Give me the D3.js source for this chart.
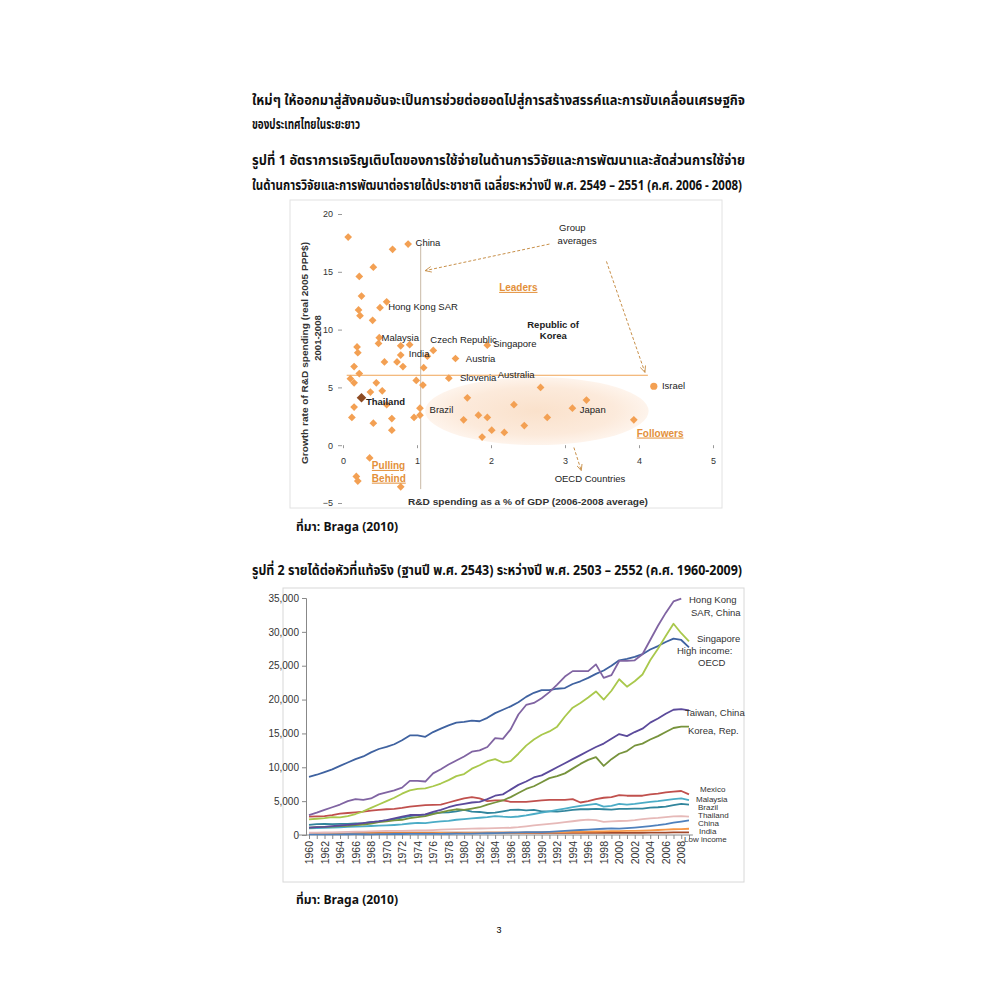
<!DOCTYPE html>
<html>
<head>
<meta charset="utf-8">
<title>R&D spending and real income per capita</title>
<style>
  body { margin: 0; background: #fff; }
  svg { display: block; }
  .thai { font-family: "Noto Sans Thai", "Noto Sans Thai UI", "Tahoma", "Noto Sans", "DejaVu Sans", sans-serif; font-weight: bold; fill: #111; }
  .chart text { font-family: "Liberation Sans", Arial, sans-serif; }
</style>
</head>
<body>
<script src="https://cdn.jsdelivr.net/npm/d3@7"></script>
<script>
// ---- figure 1: R&D share vs growth ----
const rdShare = [0.07,0.88,0.67,0.41,0.22,0.25,0.59,0.50,0.21,0.23,0.40,0.49,0.48,0.78,0.90,0.19,0.20,1.22,0.78,1.14,
  0.56,0.73,0.81,1.52,1.09,0.15,0.22,0.10,0.15,0.45,0.99,1.08,1.43,0.53,0.37,0.59,0.15,1.04,1.68,2.31,
  1.04,0.96,0.12,0.66,0.41,1.63,1.83,1.95,0.66,2.01,2.18,1.88,0.36,0.18,0.20,0.78,2.67,3.29,3.10,2.76,
  2.45,3.93,1.95];
const rdGrowth = [18.0,17.4,16.95,15.4,14.6,12.9,12.4,11.9,11.7,11.2,10.8,9.3,8.8,8.6,8.7,8.5,8.0,8.2,7.8,7.7,
  7.2,7.2,6.8,7.5,6.7,6.8,6.2,5.75,5.4,5.4,5.6,5.2,5.8,4.7,4.6,3.5,3.3,3.2,4.1,3.5,
  2.6,2.4,2.4,2.3,1.9,2.2,2.6,2.4,1.3,1.3,1.1,0.7,-1.1,-2.7,-3.1,-3.6,5.0,3.9,3.2,2.4,
  1.7,2.2,8.65];
const thailandPoint = [0.25, 4.1];
const israelPoint = [4.2, 5.1];
const avgShare = 1.05;
const avgGrowth = 6.05;
const xTicks1 = [0, 1, 2, 3, 4, 5];
const yTicks1 = [-5, 0, 5, 10, 15, 20];

const countryNames = ["China","Hong Kong SAR","Malaysia","Czech Republic","India","Austria","Singapore","Republic of","Korea",
  "Slovenia","Australia","Thailand","Brazil","Japan","Israel","OECD Countries","Group","averages"];
const countryAtX = [0.98,0.61,0.52,1.18,0.89,1.66,2.03,2.49,2.66,1.58,2.09,0.31,1.17,3.2,4.31,2.86,2.92,2.9];
const countryAtY = [17.5,11.95,9.3,9.1,7.9,7.5,8.75,10.45,9.5,5.8,6.1,3.75,3.05,3.1,5.15,-2.9,18.85,17.7];

const groupNames = ["Leaders","Followers","Pulling","Behind"];
const groupAtX = [2.11,3.97,0.39,0.39];
const groupAtY = [13.65,1.05,-1.75,-2.85];

// ---- figure 2: real GDP per capita, 2000 US$ ----
const years = d3.range(1960, 2010);
const seriesNames = ["Low income","India","China","Thailand","Brazil","Malaysia","Mexico","Korea, Rep.","Taiwan, China",
  "High income: OECD","Singapore","Hong Kong SAR, China"];
const lowIncome = [280,285,290,295,300,305,310,312,315,320,325,330,330,335,335,335,338,340,342,340,
  340,338,335,332,330,330,330,328,328,325,320,315,310,305,300,300,302,305,305,307,
  310,315,320,330,340,350,360,375,390,400];
const india = [230,235,237,240,250,240,240,255,255,265,275,272,265,270,268,285,283,296,308,287,
  300,312,315,330,336,342,351,358,385,400,412,407,420,435,455,480,505,520,540,570,
  580,600,615,650,690,740,790,850,880,920];
const china = [110,80,80,90,100,110,120,110,105,120,140,145,145,155,155,165,160,170,185,195,
  210,215,230,255,290,320,345,380,415,425,435,470,530,600,670,740,800,860,920,980,
  950,1020,1100,1200,1320,1450,1620,1820,1990,2170];
const thailand = [330,350,370,390,410,440,480,510,540,570,590,600,610,650,670,690,730,780,840,870,
  900,930,960,990,1020,1040,1070,1150,1280,1410,1540,1640,1760,1890,2030,2180,2270,2200,1940,2000,
  2070,2100,2190,2330,2450,2530,2640,2760,2800,2720];
const brazil = [1500,1600,1650,1600,1650,1650,1700,1750,1900,2000,2150,2350,2550,2800,2950,3000,3200,3300,3350,3500,
  3700,3450,3400,3250,3300,3500,3700,3750,3650,3700,3500,3500,3450,3550,3700,3800,3800,3850,3800,3750,
  3850,3850,3900,3900,4050,4100,4200,4400,4600,4500];
const malaysia = [1000,1030,1060,1100,1130,1200,1250,1270,1330,1380,1420,1480,1560,1700,1780,1750,1900,2000,2100,2250,
  2350,2450,2550,2650,2800,2700,2650,2730,2900,3100,3300,3500,3700,3900,4100,4300,4450,4600,4200,4300,
  4600,4500,4600,4750,4900,5000,5150,5300,5400,5150];
const mexico = [2700,2750,2800,2950,3150,3250,3350,3450,3600,3700,3800,3850,4000,4200,4300,4400,4450,4500,4800,5100,
  5400,5600,5400,5000,5100,5100,4900,4900,4900,5000,5100,5200,5200,5200,5300,4800,5000,5300,5500,5600,
  5900,5800,5800,5800,6000,6100,6300,6400,6500,6000];
const korea = [1100,1150,1200,1250,1300,1350,1450,1550,1700,1900,2000,2150,2250,2500,2650,2800,3100,3350,3600,3800,
  3700,3900,4100,4500,4800,5100,5600,6200,6800,7200,7800,8400,8700,9100,9800,10500,11100,11500,10200,11200,
  12000,12400,13200,13500,14100,14600,15200,15800,16000,16000];
const taiwan = [1100,1150,1200,1300,1400,1500,1600,1750,1900,2000,2200,2450,2700,2950,2950,3050,3400,3700,4100,4400,
  4600,4800,4900,5300,5800,6000,6700,7400,7900,8500,8800,9400,10000,10600,11200,11800,12400,13000,13500,14200,
  14900,14600,15200,15700,16600,17200,17900,18500,18600,18400];
const highIncomeOecd = [8600,8900,9300,9700,10200,10700,11200,11600,12200,12700,13000,13400,14000,14700,14700,14500,15200,15700,16200,16600,
  16700,16900,16800,17300,18000,18500,19000,19600,20400,21000,21400,21400,21600,21700,22300,22700,23200,23800,24300,25000,
  25800,26000,26300,26700,27400,27900,28500,29000,28800,27700];
const singapore = [2300,2400,2500,2650,2600,2800,3100,3500,4000,4500,5000,5500,6100,6600,6800,6900,7200,7600,8100,8700,
  9000,9800,10300,10900,11200,10700,10900,12000,13200,14100,14800,15300,16000,17500,18800,19500,20300,21200,20000,21300,
  23000,21900,22700,23700,25800,27500,29400,31200,29800,28600];
const hongKong = [2950,3300,3700,4100,4500,5000,5300,5200,5400,6000,6300,6600,7000,8000,8000,7900,9100,9700,10400,11000,
  11600,12300,12500,13000,14300,14200,15600,17800,19200,19500,20200,21100,22200,23400,24200,24200,24200,25200,23200,23600,
  25700,25700,25800,26700,28800,30900,32800,34500,34900,null];
const seriesValues = [lowIncome, india, china, thailand, brazil, malaysia, mexico, korea, taiwan, highIncomeOecd, singapore, hongKong];
const seriesColors = ["#A2482A","#F79646","#4F81BD","#E6B9B8","#31859C","#4BACC6","#C0504D","#77933C","#5B4A9B",
  "#3F62A0","#A9C84C","#8064A2"];
const yTicks2 = d3.range(0, 35001, 5000);

const endLabels = ["Hong Kong","SAR, China","Singapore","High income:","OECD","Taiwan, China","Korea, Rep.",
  "Mexico","Malaysia","Brazil","Thailand","China","India","Low income"];
const endLabelAt = [34700,32800,28950,27150,25400,18000,15400,6750,5250,4100,2950,1770,620,-620];
const endLabelShift = [-1,1,7,-13,8,-5,-2,10,6,8,8,8,9,-6];

// ---- page ----
const svg = d3.select("body").append("svg")
  .attr("width", 1000).attr("height", 1000);

const thaiLines = [
  ["ใหม่ๆ ให้ออกมาสู่สังคมอันจะเป็นการช่วยต่อยอดไปสู่การสร้างสรรค์และการขับเคลื่อนเศรษฐกิจ", 252, 105, 493, 14],
  ["ของประเทศไทยในระยะยาว", 252, 129, 108, 14],
  ["รูปที่ 1  อัตราการเจริญเติบโตของการใช้จ่ายในด้านการวิจัยและการพัฒนาและสัดส่วนการใช้จ่าย", 252, 165, 493, 14],
  ["ในด้านการวิจัยและการพัฒนาต่อรายได้ประชาชาติ เฉลี่ยระหว่างปี พ.ศ. 2549 – 2551 (ค.ศ. 2006 - 2008)", 252, 190, 490, 14],
  ["ที่มา: Braga (2010)", 296, 531, 102, 12],
  ["รูปที่ 2  รายได้ต่อหัวที่แท้จริง (ฐานปี พ.ศ. 2543) ระหว่างปี พ.ศ. 2503 – 2552 (ค.ศ. 1960-2009)", 252, 575, 490, 14],
  ["ที่มา: Braga (2010)", 296, 904, 102, 12]
];
svg.selectAll("text.thai").data(thaiLines).enter().append("text")
  .attr("class", "thai")
  .attr("x", d => d[1]).attr("y", d => d[2])
  .attr("font-size", d => d[4])
  .attr("textLength", d => d[3]).attr("lengthAdjust", "spacingAndGlyphs")
  .text(d => d[0]);

svg.append("text").attr("x", 499).attr("y", 933)
  .attr("text-anchor", "middle").attr("font-size", 9)
  .attr("font-family", "Liberation Sans, Arial, sans-serif").text("3");

// ---- figure 1 ----
const g1 = svg.append("g").attr("class", "chart");
g1.append("rect").attr("x", 290).attr("y", 200).attr("width", 432).attr("height", 308)
  .attr("fill", "#fff").attr("stroke", "#e2e2e2");

const sx = d3.scaleLinear().domain([0, 5]).range([343, 713]);
const sy = d3.scaleLinear().domain([-5, 20]).range([503, 214]);

const defs = svg.append("defs");
const grad = defs.append("radialGradient").attr("id", "oecdGlow");
grad.append("stop").attr("offset", "0%").attr("stop-color", "#FAE1CB");
grad.append("stop").attr("offset", "70%").attr("stop-color", "#FCEADB");
grad.append("stop").attr("offset", "100%").attr("stop-color", "#FEF4EC");
defs.append("marker").attr("id", "arrowHead").attr("viewBox", "0 0 10 10")
  .attr("refX", 9).attr("refY", 5).attr("markerWidth", 7).attr("markerHeight", 7)
  .attr("orient", "auto-start-reverse")
  .append("path").attr("d", "M0,1 L9,5 L0,9").attr("fill", "none").attr("stroke", "#C8904A").attr("stroke-width", 1.2);

g1.append("ellipse")
  .attr("cx", sx(2.62)).attr("cy", sy(2.95))
  .attr("rx", sx(1.51) - sx(0)).attr("ry", sy(0) - sy(2.94))
  .attr("fill", "url(#oecdGlow)");

const yAxis1 = g1.append("g").attr("transform", "translate(342,0)")
  .call(d3.axisLeft(sy).tickValues(yTicks1).tickFormat(d3.format("d")).tickSize(4).tickPadding(5));
const xAxis1 = g1.append("g").attr("transform", `translate(0,${sy(0)})`)
  .call(d3.axisBottom(sx).tickValues(xTicks1).tickFormat(d3.format("d")).tickSize(3).tickPadding(9));
[yAxis1, xAxis1].forEach(a => {
  a.select(".domain").remove();
  a.selectAll("line").attr("stroke", "#999");
  a.selectAll("text").attr("font-size", 9).attr("fill", "#333");
});

// average lines
g1.append("line").attr("x1", sx(0.05)).attr("x2", sx(4.12))
  .attr("y1", sy(avgGrowth)).attr("y2", sy(avgGrowth))
  .attr("stroke", "#F0A456").attr("stroke-width", 1);
g1.append("line").attr("x1", sx(avgShare)).attr("x2", sx(avgShare))
  .attr("y1", sy(17.5)).attr("y2", sy(-3.8))
  .attr("stroke", "#C9B9A6").attr("stroke-width", 1);

// arrows
const arrows = [[[2.79, 17.4], [1.11, 15.1]], [[3.56, 15.9], [4.08, 6.3]], [[3.12, -0.2], [3.22, -2.2]]];
g1.selectAll("path.arrow").data(arrows).enter().append("path")
  .attr("class", "arrow")
  .attr("d", d => d3.line()(d.map(p => [sx(p[0]), sy(p[1])])))
  .attr("stroke", "#C8904A").attr("stroke-width", 1).attr("stroke-dasharray", "3,2")
  .attr("fill", "none").attr("marker-end", "url(#arrowHead)");

// points (squares turned 45 degrees, as in the original)
const diamond = d3.symbol(d3.symbolSquare, 30);
g1.selectAll("path.pt").data(rdShare).enter().append("path")
  .attr("class", "pt")
  .attr("transform", (d, i) => `translate(${sx(d)},${sy(rdGrowth[i])}) rotate(45)`)
  .attr("d", diamond)
  .attr("fill", "#F3A053");
g1.append("path")
  .attr("transform", `translate(${sx(thailandPoint[0])},${sy(thailandPoint[1])}) rotate(45)`)
  .attr("d", d3.symbol(d3.symbolSquare, 46))
  .attr("fill", "#8E4B22");
g1.append("circle").attr("cx", sx(israelPoint[0])).attr("cy", sy(israelPoint[1])).attr("r", 3.6)
  .attr("fill", "#F3A053");

// labels
g1.selectAll("text.country").data(countryNames).enter().append("text")
  .attr("class", "country")
  .attr("x", (d, i) => sx(countryAtX[i])).attr("y", (d, i) => sy(countryAtY[i]))
  .attr("dy", "0.35em").attr("font-size", 9.5).attr("fill", "#222")
  .attr("font-weight", d => d === "Thailand" || d === "Republic of" || d === "Korea" ? "bold" : "normal")
  .text(d => d);
g1.selectAll("text.group").data(groupNames).enter().append("text")
  .attr("class", "group")
  .attr("x", (d, i) => sx(groupAtX[i])).attr("y", (d, i) => sy(groupAtY[i]))
  .attr("dy", "0.35em").attr("font-size", 10).attr("font-weight", "bold")
  .attr("fill", "#E3903A").attr("text-decoration", "underline")
  .text(d => d);

g1.append("text").attr("x", 528).attr("y", 505).attr("text-anchor", "middle")
  .attr("font-size", 9.5).attr("font-weight", "bold").attr("fill", "#333")
  .attr("textLength", 240).attr("lengthAdjust", "spacingAndGlyphs")
  .text("R&D spending as a % of GDP (2006-2008 average)");
g1.append("text").attr("transform", "translate(308,353) rotate(-90)").attr("text-anchor", "middle")
  .attr("font-size", 9.5).attr("font-weight", "bold").attr("fill", "#333")
  .attr("textLength", 222).attr("lengthAdjust", "spacingAndGlyphs")
  .text("Growth rate of R&D spending (real 2005 PPP$)");
g1.append("text").attr("transform", "translate(321,338) rotate(-90)").attr("text-anchor", "middle")
  .attr("font-size", 9.5).attr("font-weight", "bold").attr("fill", "#333")
  .text("2001-2008");

// ---- figure 2 ----
const g2 = svg.append("g").attr("class", "chart");
g2.append("rect").attr("x", 283).attr("y", 588).attr("width", 461).attr("height", 294)
  .attr("fill", "#fff").attr("stroke", "#d8d8d8");

const lx = d3.scaleLinear().domain([1960, 2009]).range([309, 689]);
const ly = d3.scaleLinear().domain([0, 35000]).range([835, 598]);

const yAxis2 = g2.append("g").attr("transform", "translate(306,0)")
  .call(d3.axisLeft(ly).tickValues(yTicks2).tickFormat(d3.format(",")).tickSize(4).tickPadding(3));
const xAxis2 = g2.append("g").attr("transform", "translate(0,835)")
  .call(d3.axisBottom(lx).tickValues(years).tickSize(4)
    .tickFormat(d => (d % 2 === 0 && d < 2009) ? String(d) : ""));
[yAxis2, xAxis2].forEach(a => {
  a.select(".domain").attr("stroke", "#888");
  a.selectAll("line").attr("stroke", "#888");
  a.selectAll("text").attr("font-size", 10).attr("fill", "#333");
});
xAxis2.select(".domain").attr("d", `M${lx(1958.5)},0H${lx(2009.5)}`);
xAxis2.selectAll("text")
  .attr("transform", "rotate(-90)").attr("text-anchor", "end")
  .attr("x", -6).attr("y", 0).attr("dy", "0.35em").attr("font-size", 10.5);

const line = d3.line()
  .defined(d => d[1] != null)
  .x(d => lx(d[0])).y(d => ly(d[1]));
g2.selectAll("path.series").data(seriesValues).enter().append("path")
  .attr("class", "series")
  .attr("d", vals => line(years.map((y, i) => [y, vals[i]])))
  .attr("fill", "none")
  .attr("stroke", (d, i) => seriesColors[i])
  .attr("stroke-width", 1.8)
  .attr("stroke-linejoin", "round");

g2.selectAll("text.end").data(endLabels).enter().append("text")
  .attr("class", "end")
  .attr("x", (d, i) => 690 + endLabelShift[i]).attr("y", (d, i) => ly(endLabelAt[i]))
  .attr("dy", "0.35em")
  .attr("font-size", (d, i) => i < 7 ? 9.5 : 8)
  .attr("fill", "#333")
  .text(d => d);
</script>
</body>
</html>
